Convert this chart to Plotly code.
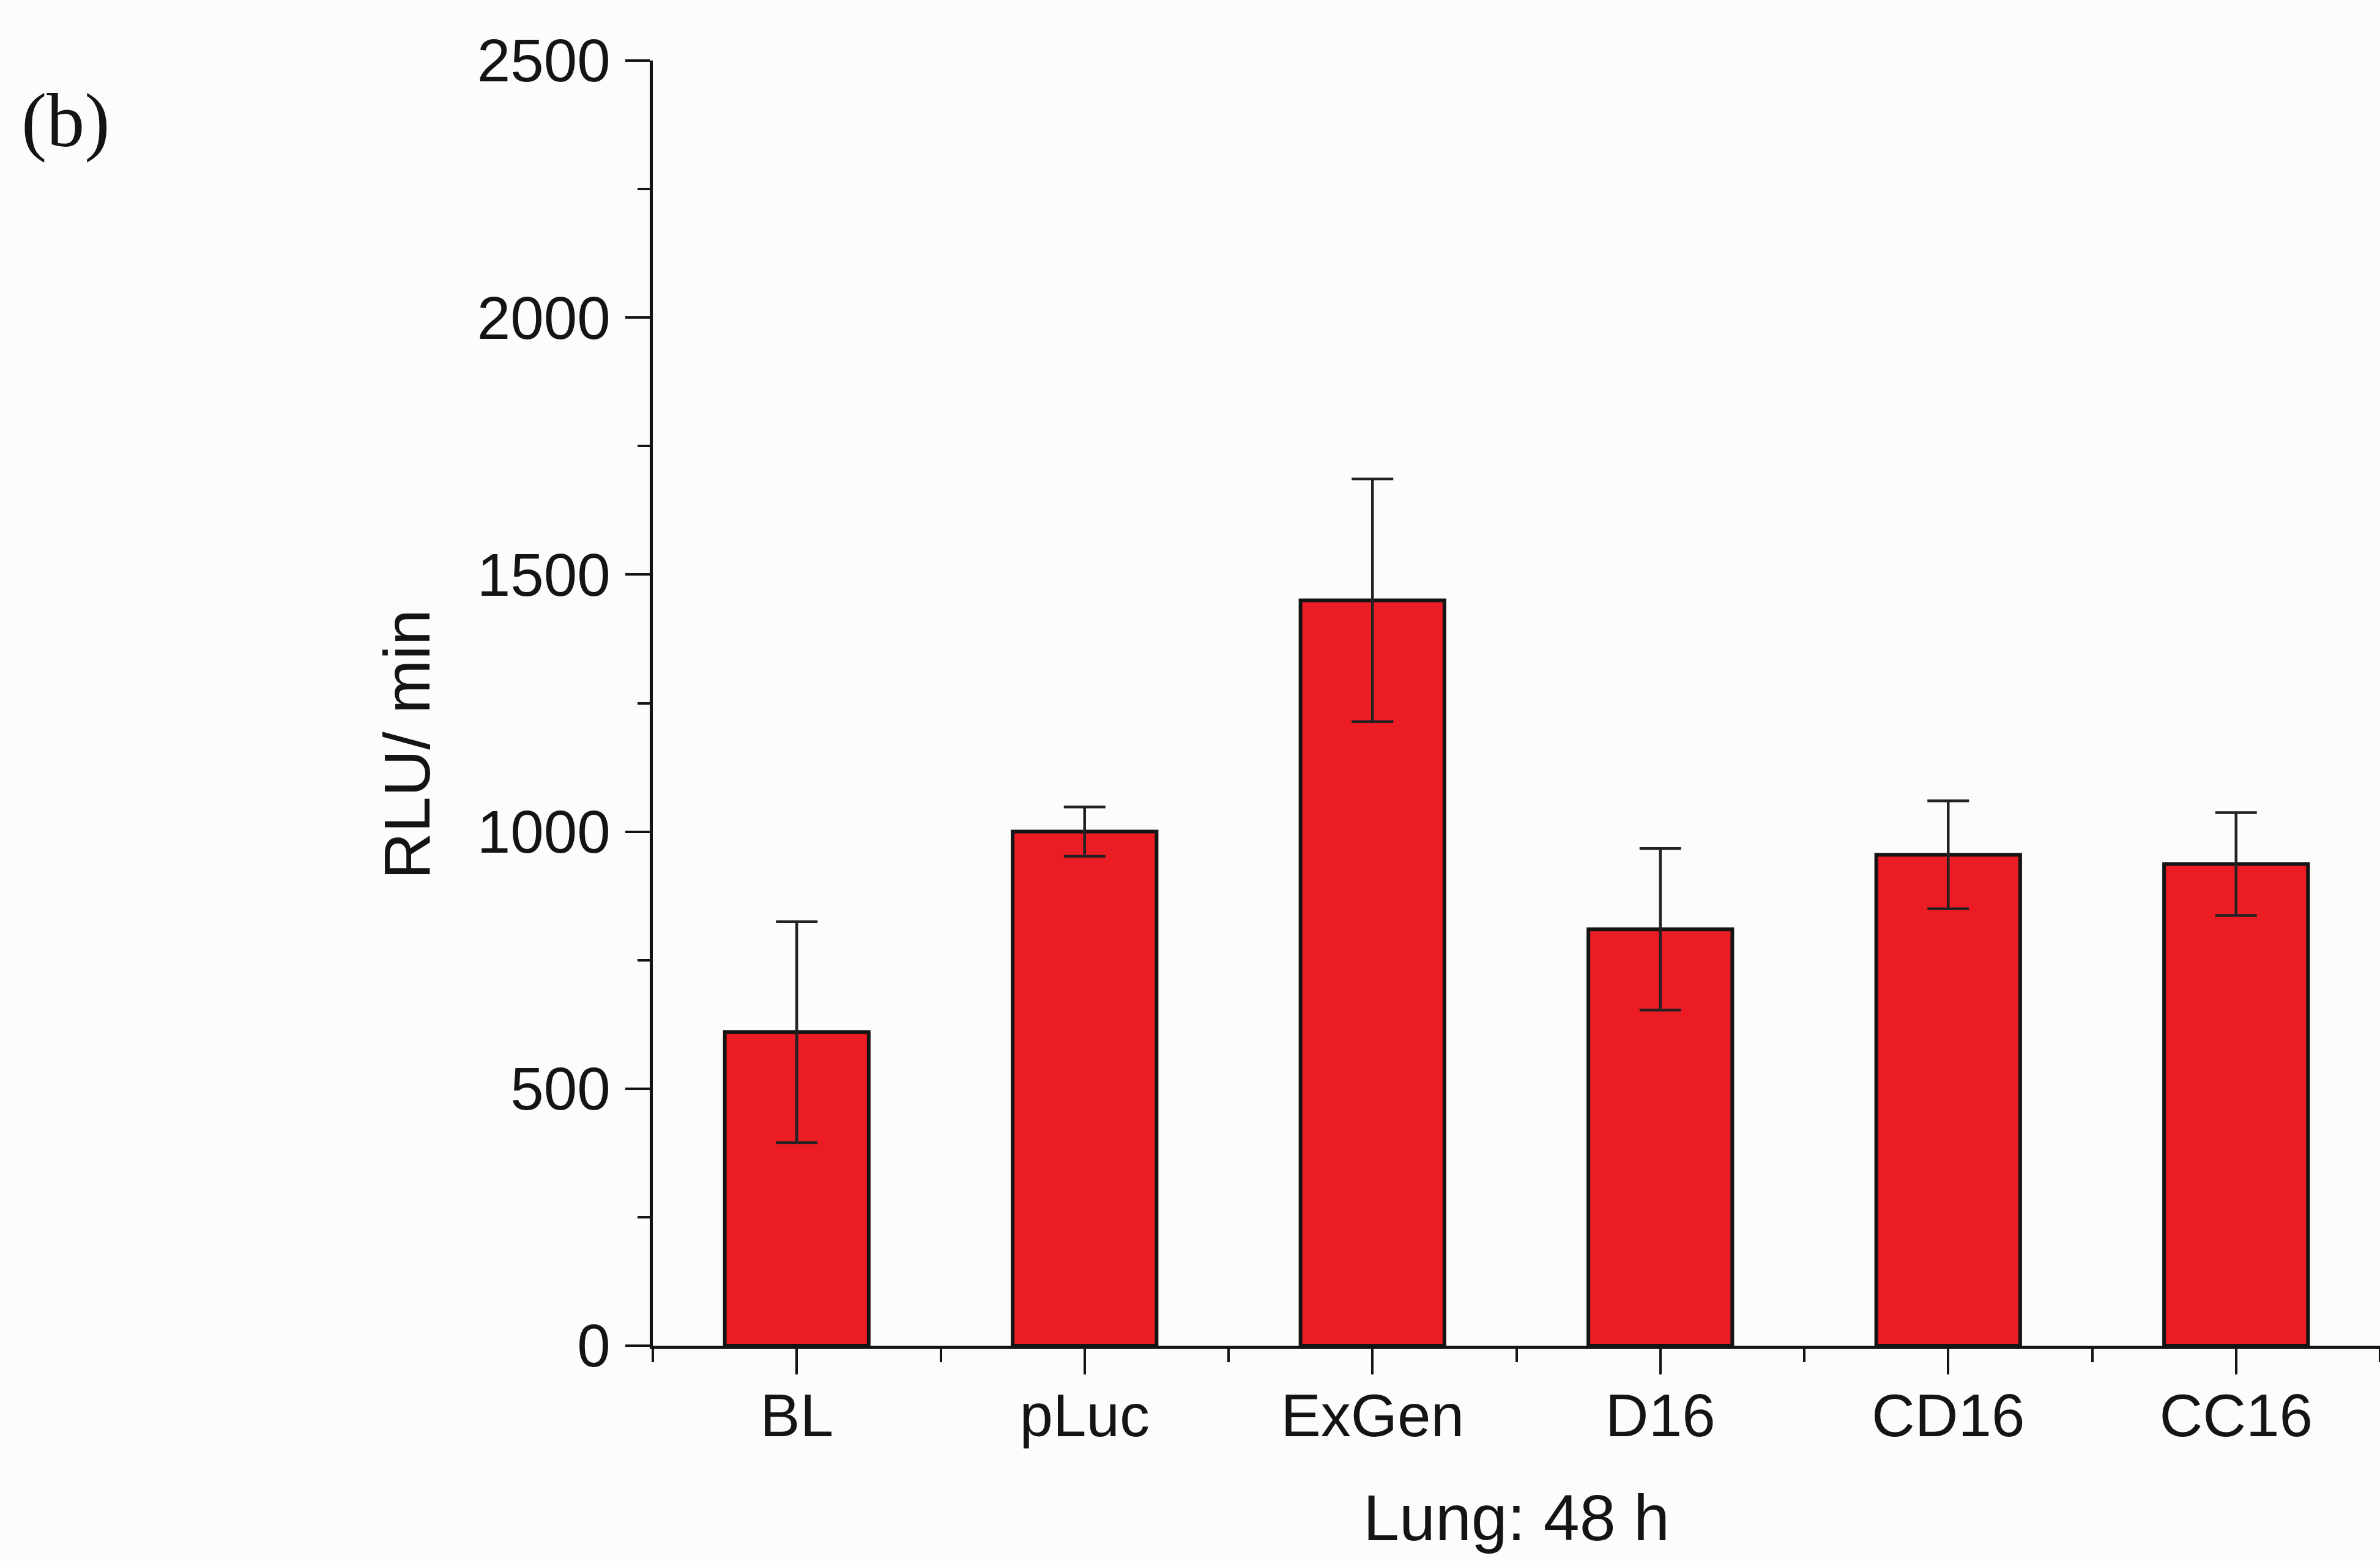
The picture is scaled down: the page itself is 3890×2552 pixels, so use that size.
import plotly.graph_objects as go

# Luciferase activity in lung tissue 48 h after administration
categories = ["BL", "pLuc", "ExGen", "D16", "CD16", "CC16"]
rlu_mean = [610, 1000, 1450, 810, 955, 937]
rlu_err = [215, 48, 236, 157, 105, 100]

y_ticks = [0, 500, 1000, 1500, 2000, 2500]

W, H = 3890, 2552
L, R, T, B = 1067, 0, 99, 352

BG = "#FDFCFA"
RED = "#EC1C24"
INK = "#141414"

positions = list(range(len(categories)))

fig = go.Figure()
fig.add_trace(go.Bar(
    x=positions,
    y=rlu_mean,
    width=0.5,
    marker=dict(color=RED, line=dict(color=INK, width=6)),
    error_y=dict(type="data", array=rlu_err, visible=True,
                 color="#222222", thickness=4.5, width=34),
    showlegend=False,
))

axis_font = dict(family="Liberation Sans, Arial, sans-serif", size=98, color=INK)

fig.update_layout(
    width=W, height=H,
    margin=dict(l=L, r=R, t=T, b=B, pad=0),
    paper_bgcolor=BG, plot_bgcolor=BG,
    bargap=0.5,
    xaxis=dict(
        range=[-0.5, 5.5],
        tickmode="array",
        tickvals=positions,
        ticktext=categories,
        ticks="outside", ticklen=42, tickwidth=4, tickcolor=INK,
        showline=True, linecolor=INK, linewidth=4.5,
        showgrid=False, zeroline=False,
        tickfont=axis_font,
        ticklabelstandoff=-16,
        minor=dict(tickmode="array",
                   tickvals=[p - 0.5 for p in positions] + [positions[-1] + 0.5],
                   ticks="outside", ticklen=22, tickwidth=4, tickcolor=INK,
                   showgrid=False),
    ),
    yaxis=dict(
        range=[0, 2500],
        tickmode="array",
        tickvals=y_ticks,
        ticktext=[str(v) for v in y_ticks],
        ticks="outside", ticklen=40, tickwidth=4, tickcolor=INK,
        showline=True, linecolor=INK, linewidth=4.5,
        showgrid=False, zeroline=False,
        tickfont=axis_font,
        ticklabelstandoff=5,
        minor=dict(tickmode="linear", tick0=0, dtick=250,
                   ticks="outside", ticklen=20, tickwidth=4, tickcolor=INK,
                   showgrid=False),
    ),
    annotations=[
        dict(text="RLU/ min", textangle=-90,
             xref="paper", yref="paper", x=-0.1424, y=0.468,
             xanchor="center", yanchor="middle", showarrow=False,
             font=dict(family="Liberation Sans, Arial, sans-serif", size=106, color=INK)),
        dict(text="Lung: 48 h",
             xref="paper", yref="paper", x=0.5, y=-0.1337,
             xanchor="center", yanchor="middle", showarrow=False,
             font=dict(family="Liberation Sans, Arial, sans-serif", size=106, color=INK)),
        dict(text="(b)",
             xref="paper", yref="paper", x=-0.34, y=0.953,
             xanchor="center", yanchor="middle", showarrow=False,
             font=dict(family="Liberation Serif, Times New Roman, serif", size=124, color=INK)),
    ],
)

fig.write_html("out.html")
